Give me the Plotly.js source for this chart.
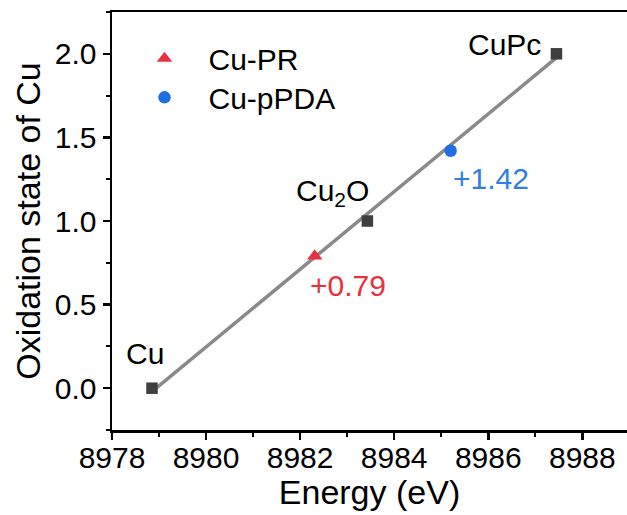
<!DOCTYPE html>
<html>
<head>
<meta charset="utf-8">
<script src="https://cdn.plot.ly/plotly-3.0.1.min.js"></script>
<style>html,body{margin:0;padding:0;background:#fff;}#chart{width:627px;height:515px;}</style>
</head>
<body>
<div id="chart"></div>
<script>
// Reference compounds (black squares)
const refNames = ["Cu", "Cu<sub>2</sub>O", "CuPc"];
const refEnergy = [8978.85, 8983.43, 8987.45];
const refOx = [0.0, 1.0, 2.0];
// Samples
const prName = "Cu-PR";
const prEnergy = [8982.31];
const prOx = [0.79];
const pdaName = "Cu-pPDA";
const pdaEnergy = [8985.20];
const pdaOx = [1.42];
// Labels
const prLabel = "+0.79";
const pdaLabel = "+1.42";

// linear fit of the reference compounds
const n = refEnergy.length;
const mx = refEnergy.reduce((a,b)=>a+b,0)/n;
const my = refOx.reduce((a,b)=>a+b,0)/n;
let sxx = 0, sxy = 0;
for (let i=0;i<n;i++){ sxx += (refEnergy[i]-mx)**2; sxy += (refEnergy[i]-mx)*(refOx[i]-my); }
const slope = sxy/sxx, icpt = my - slope*mx;
const fitX = [Math.min(...refEnergy), Math.max(...refEnergy)];
const fitY = fitX.map(x => icpt + slope*x);

const FONT = '"Liberation Sans", Arial, sans-serif';
const RED = '#e8303f', BLUE = '#1f6fe0';

const traces = [
  {x: fitX, y: fitY, mode: 'lines', line: {color: '#8a8a8a', width: 3.5}, showlegend: false, hoverinfo: 'skip'},
  {x: refEnergy, y: refOx, mode: 'markers', marker: {symbol: 'square', size: 11.5, color: '#3f3f3f'}, showlegend: false},
  {x: prEnergy, y: prOx, name: prName, mode: 'markers', legend: 'legend', marker: {symbol: 'triangle-up', size: 13.5, color: RED}},
  {x: pdaEnergy, y: pdaOx, name: pdaName, mode: 'markers', legend: 'legend2', marker: {symbol: 'circle', size: 12.5, color: BLUE}}
];

const ann = (x, y, text, color) => ({x, y, xref: 'x', yref: 'y', text, showarrow: false,
  xanchor: 'center', yanchor: 'middle', font: {family: FONT, size: 30, color}});

const legendBase = {xanchor: 'left', yanchor: 'top', bgcolor: 'rgba(0,0,0,0)',
  font: {family: FONT, size: 30, color: '#000'}, itemwidth: 78};

const layout = {
  width: 627, height: 515,
  margin: {l: 112, r: 0, t: 12, b: 85},
  paper_bgcolor: '#fff', plot_bgcolor: '#fff',
  font: {family: FONT, color: '#000'},
  showlegend: true,
  legend: Object.assign({x: 0.0165, y: 0.951}, legendBase),
  legend2: Object.assign({x: 0.0165, y: 0.858}, legendBase),
  xaxis: {range: [8978, 8988.95], dtick: 2, tick0: 8978, showgrid: false, zeroline: false,
    showline: true, linecolor: '#000', linewidth: 2.5, mirror: true,
    ticks: 'outside', ticklen: 7, tickwidth: 2.5, tickcolor: '#000', ticklabelstandoff: -8,
    minor: {dtick: 1, ticks: 'outside', ticklen: 4, tickwidth: 2, tickcolor: '#000', showgrid: false},
    tickfont: {family: FONT, size: 30, color: '#000'},
    title: {text: 'Energy (eV)', font: {family: FONT, size: 34, color: '#000'}, standoff: 8}},
  yaxis: {range: [-0.25, 2.25], dtick: 0.5, tick0: 0, tickformat: '.1f', showgrid: false, zeroline: false,
    showline: true, linecolor: '#000', linewidth: 2.5, mirror: false,
    ticks: 'outside', ticklen: 7, tickwidth: 2.5, tickcolor: '#000',
    minor: {dtick: 0.25, ticks: 'outside', ticklen: 4, tickwidth: 2, tickcolor: '#000', showgrid: false},
    tickfont: {family: FONT, size: 30, color: '#000'},
    title: {text: 'Oxidation state of Cu', font: {family: FONT, size: 34, color: '#000'}, standoff: 4}},
  annotations: [
    ann(8978.70, 0.206, refNames[0], '#000'),
    ann(8982.68, 1.172, refNames[1], '#000'),
    ann(8986.34, 2.056, refNames[2], '#000'),
    ann(8983.01, 0.614, prLabel, RED),
    ann(8986.06, 1.257, pdaLabel, '#2f7fe6')
  ]
};

Plotly.newPlot('chart', traces, layout, {displayModeBar: false, staticPlot: true});
</script>
</body>
</html>
